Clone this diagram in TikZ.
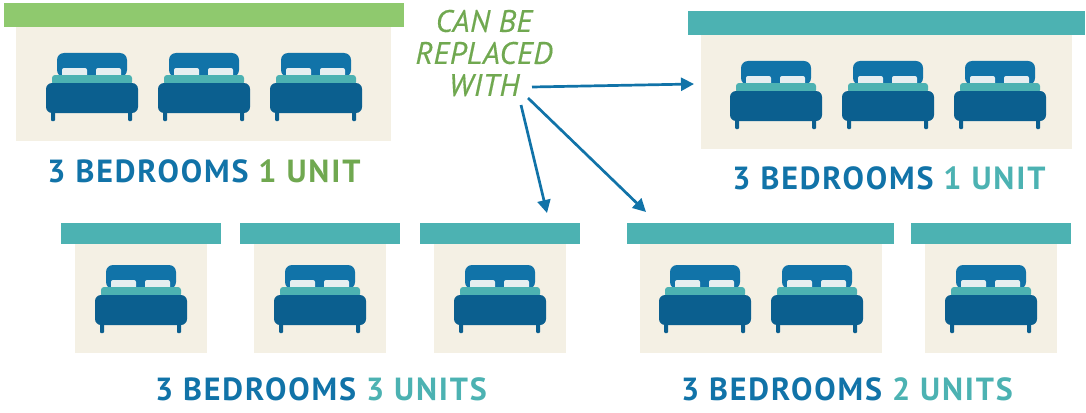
\documentclass[tikz,border=0pt]{standalone}
\usepackage{fontspec}
\setmainfont{PT Sans}
\usepackage{xcolor}
\usetikzlibrary{arrows.meta,positioning}
\definecolor{bedblue}{HTML}{1173A8}
\definecolor{beddark}{HTML}{0B5F8F}
\definecolor{roofteal}{HTML}{4CB2B2}
\definecolor{roomcream}{HTML}{F4F0E4}
\definecolor{roofgreen}{HTML}{8FC96E}
\definecolor{textgreen}{HTML}{70A850}
\definecolor{pillowgrey}{HTML}{E6EEF0}
\tikzset{
    room/.style={fill=roomcream, draw=none, inner sep=0pt, anchor=north west},
    roof/.style={fill=roofteal, draw=none, inner sep=0pt, anchor=north west},
    caption/.style={font=\fontsize{32}{32}\selectfont\bfseries\addfontfeatures{LetterSpace=5.8}, text=bedblue, inner sep=0pt},
    replaced/.style={font=\fontsize{31}{32}\selectfont\itshape\addfontfeatures{LetterSpace=1.5,FakeBold=0.4}, text=textgreen, align=center, inner sep=0pt},
    link/.style={-{Triangle[length=13pt,width=13pt]}, draw=bedblue, line width=2.7pt},
    bed/.pic={
        % legs
        \fill[beddark, rounded corners=1pt] (-41,50) rectangle (-37,68);
        \fill[beddark, rounded corners=1pt] (36,50) rectangle (40,68);
        % headboard and pillows
        \fill[bedblue, rounded corners=7pt] (-35,0) -- (35,0) -- (35,24) -- (-35,24) -- cycle;
        \fill[pillowgrey, rounded corners=2pt] (-30,15) rectangle (-5,24);
        \fill[pillowgrey, rounded corners=2pt] (4,15) rectangle (29,24);
        % blanket and base
        \fill[roofteal, rounded corners=3pt] (-40,22) rectangle (40,32);
        \fill[beddark, rounded corners=6pt] (-46,30) rectangle (46,60);
    }
}

\begin{document}
\begin{tikzpicture}[x=1pt,y=-1pt]
    \useasboundingbox (0,0) rectangle (1086,412);

    % Rooms
    \foreach \i/\x/\y/\w/\h in {
            a/16/27/375/114,
            b/701/35/371/114,
            c/75/244/132/109,
            d/254/244/132/109,
            e/434/244/132/109,
            f/640/244/242/109,
            g/925/244/132/109
            } {
        \node[room, minimum width=\w pt, minimum height=\h pt] (room\i) at (\x,\y) {};
    }

    % Roofs
    \node[roof, fill=roofgreen, minimum width=400pt, minimum height=24pt] (roofa) at (4,3) {};
    \foreach \i/\x/\y/\w/\h in {
            b/688/11/397/24,
            c/61/223/160/21,
            d/240/223/160/21,
            e/420/223/160/21,
            f/627/223/267/21,
            g/911/223/160/21
            } {
        \node[roof, minimum width=\w pt, minimum height=\h pt] (roof\i) at (\x,\y) {};
    }

    % Beds
    \foreach \x/\y in {
            92/53,204/53,316/53,
            776/61,888/61,1000/61,
            141/265,320/265,500/265,
            705/265,817/265,991/265
            } {
        \pic at (\x,\y) {bed};
    }

    % Labels
    \node[caption] (labela) at (204,171) {3 BEDROOMS \textcolor{textgreen}{1 UNIT}};
    \node[caption] (labelb) at (889,178) {3 BEDROOMS \textcolor{roofteal}{1 UNIT}};
    \node[caption] (labelc) at (321,389) {3 BEDROOMS \textcolor{roofteal}{3 UNITS}};
    \node[caption] (labeld) at (847,389) {3 BEDROOMS \textcolor{roofteal}{2 UNITS}};
    \node[replaced] (replace) at (484,53) {CAN BE\\REPLACED\\WITH};

    % Arrows
    \coordinate (starta) at (532,87);
    \coordinate (startb) at (521,105);
    \coordinate (startc) at (528,98);
    \coordinate (enda) at (694,84);
    \coordinate (endb) at (547,213);
    \coordinate (endc) at (646,212);
    \draw[link] (starta) -- (enda);
    \draw[link] (startb) -- (endb);
    \draw[link] (startc) -- (endc);
\end{tikzpicture}
\end{document}
